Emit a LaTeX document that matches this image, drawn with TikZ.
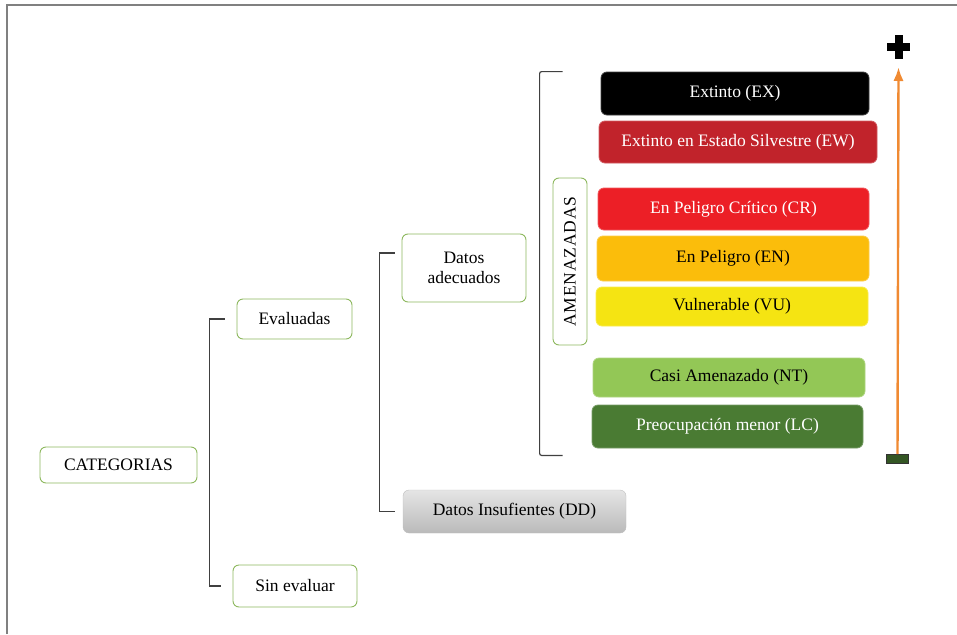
\documentclass[tikz,border=0pt]{standalone}
\usepackage{fontspec}
\setmainfont{Liberation Serif}
\usetikzlibrary{arrows.meta}

\definecolor{boxgreen}{HTML}{8DB85E}
\definecolor{exc}{HTML}{000000}
\definecolor{ewc}{HTML}{C1232B}
\definecolor{crc}{HTML}{EC1F26}
\definecolor{enc}{HTML}{FBBD0B}
\definecolor{vuc}{HTML}{F5E412}
\definecolor{ntc}{HTML}{93C756}
\definecolor{lcc}{HTML}{4A7B33}
\definecolor{arrowc}{HTML}{F08A32}

\begin{document}
\begin{tikzpicture}[
  x=1pt, y=-1pt,
  >=Latex,
  txt/.style={font=\fontsize{17.5}{20}\selectfont,align=center,inner sep=2pt},
  wbox/.style={txt,draw=boxgreen,line width=0.9pt,rounded corners=6pt,fill=white},
  cbox/.style={txt,rounded corners=6pt,draw=#1!75!white,line width=0.8pt,fill=#1},
  brk/.style={draw=black!75,line width=1.2pt},
]
\useasboundingbox (0,0) rectangle (957,634);

% Frame — only top and left edge
\draw[black!50,line width=1.4pt] (7,634) -- (7,5) -- (957,5);

% Tree boxes
\node[wbox,minimum width=157,minimum height=36] (cat) at (118.5,465) {CATEGORIAS};
\node[wbox,minimum width=115,minimum height=40] (ev)  at (294.5,319) {Evaluadas};
\node[wbox,minimum width=124,minimum height=42] (sin) at (295,586)   {Sin evaluar};
\node[wbox,minimum width=124,minimum height=68] (dad) at (464,268)   {Datos\\adecuados};
\node[txt,draw=black!25,rounded corners=6pt,top color=black!10,bottom color=black!27,
      minimum width=223,minimum height=43] (dd) at (514.5,511.5) {Datos Insufientes (DD)};
\node[wbox,rotate=90,minimum width=167,minimum height=34] (ame) at (570,261.5)
  {\addfontfeature{LetterSpace=5}AMENAZADAS};

% Red list categories
\node[cbox=exc,text=white,minimum width=268,minimum height=43] (ex) at (735,93.5)  {Extinto (EX)};
\node[cbox=ewc,text=white,minimum width=278,minimum height=42] (ew) at (738,142)   {Extinto en Estado Silvestre (EW)};
\node[cbox=crc,text=white,minimum width=271,minimum height=42] (cr) at (733.5,209) {En Peligro Crítico (CR)};
\node[cbox=enc,minimum width=272,minimum height=45]            (en) at (733,258.5) {En Peligro (EN)};
\node[cbox=vuc,minimum width=272,minimum height=39]            (vu) at (732,306.5) {Vulnerable (VU)};
\node[cbox=ntc,minimum width=272,minimum height=39]            (nt) at (729,377.5) {Casi Amenazado (NT)};
\node[cbox=lcc,text=white,minimum width=271,minimum height=43] (lc) at (727.5,426.5) {Preocupación menor (LC)};

% Brackets
\draw[brk] ([xshift=-12]ev.west) -- ++(-15,0) |- ([xshift=-12]sin.west);
\draw[brk] ([xshift=-7,yshift=15]dad.west) -- ++(-15,0) |- ([xshift=-8]dd.west);
\draw[brk,rounded corners=2pt] ([xshift=-38]ex.north west) -- ++(-23,0) |- ([xshift=-29,yshift=-7]lc.south west);

% Scale: plus at the top, minus at the bottom
\node[fill=black,minimum width=23,minimum height=8,inner sep=0pt] (plush) at (898.5,47) {};
\node[fill=black,minimum width=8,minimum height=24,inner sep=0pt] (plus) at (898.5,47) {};
\node[fill=lcc!70!black,draw=black!80,line width=0.8pt,minimum width=22,minimum height=9,inner sep=0pt] (minus) at (897.5,459) {};
\draw[->,arrowc,line width=2.4pt] (minus.north) -- ([yshift=-8]plus.south);

\end{tikzpicture}
\end{document}
